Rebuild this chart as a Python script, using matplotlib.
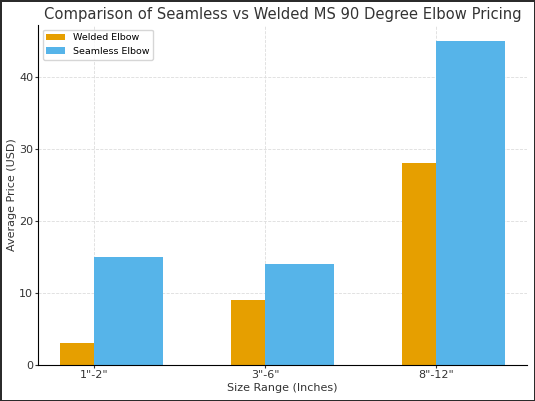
import numpy as np
import matplotlib.pyplot as plt

sizes = ['1"-2"', '3"-6"', '8"-12"']
welded = [3, 9, 28]
seamless = [15, 14, 45]

x = np.arange(len(sizes))
width = 0.4

fig, ax = plt.subplots(figsize=(5.35, 4.01), dpi=100)
fig.patch.set_edgecolor("#2b2b2b")
fig.patch.set_linewidth(2)

ax.bar(x, welded, width, label="Welded Elbow", color="#E69F00")
ax.bar(x + width / 2, seamless, width, label="Seamless Elbow", color="#56B4E9")

ax.set_title("Comparison of Seamless vs Welded MS 90 Degree Elbow Pricing",
             fontsize=10.6, color="#333333", pad=4)
ax.set_xlabel("Size Range (Inches)", fontsize=8, color="#333333", labelpad=2)
ax.set_ylabel("Average Price (USD)", fontsize=8, color="#333333", labelpad=1.5)
ax.set_xticks(x)
ax.set_xticklabels(sizes)
ax.tick_params(labelsize=8, colors="#333333", length=2.5, pad=1)
ax.grid(True, linestyle="--", color="#dddddd", linewidth=0.6)
ax.set_axisbelow(True)
for s in ["top", "right"]:
    ax.spines[s].set_visible(False)
ax.legend(loc="upper left", fontsize=6.8)

fig.subplots_adjust(left=0.071, right=0.985, top=0.938, bottom=0.09)
fig.savefig("out.png")
